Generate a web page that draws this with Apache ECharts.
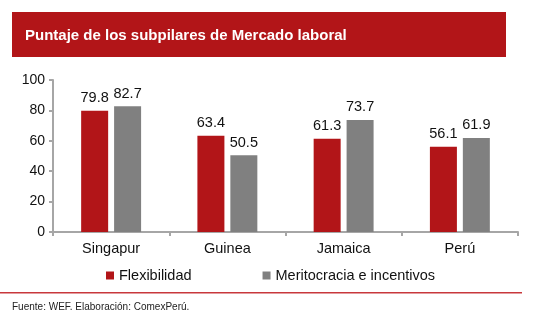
<!DOCTYPE html>
<html><head><meta charset="utf-8">
<script src="https://cdn.jsdelivr.net/npm/echarts@6/dist/echarts.min.js"></script>
<style>html,body{margin:0;padding:0;background:#fff}#c{width:537px;height:326px}</style>
</head><body><div id="c"></div>
<script>
var categories = ['Singapur', 'Guinea', 'Jamaica', 'Perú'];
var flexibilidad = [79.8, 63.4, 61.3, 56.1];
var meritocracia = [82.7, 50.5, 73.7, 61.9];
var yTicks = [0, 20, 40, 60, 80, 100];

var chart = echarts.init(document.getElementById('c'), null, {renderer: 'canvas'});
var font = 'Liberation Sans, Arial, sans-serif';
chart.setOption({
  animation: false,
  backgroundColor: '#fff',
  title: {
    text: 'Puntaje de los subpilares de Mercado laboral',
    left: 25, top: 28, padding: 0,
    textStyle: {color: '#fff', fontSize: 15, fontWeight: 'bold', fontFamily: font}
  },
  graphic: [
    {type: 'rect', z: -1, shape: {x: 12, y: 12, width: 494, height: 45}, style: {fill: '#B21518'}},
    {type: 'rect', shape: {x: 0, y: 292, width: 522, height: 1.5}, style: {fill: '#C8383C'}},
    {type: 'text', left: 12, top: 302, style: {text: 'Fuente: WEF. Elaboración: ComexPerú.', fill: '#222', font: '10px ' + font}}
  ],
  legend: {
    top: 263, left: 101,
    itemWidth: 8, itemHeight: 8, itemGap: 71,
    icon: 'rect',
    textStyle: {fontSize: 14.5, color: '#111', fontFamily: font},
    data: ['Flexibilidad', 'Meritocracia e incentivos']
  },
  grid: {left: 53, right: 19, top: 80, bottom: 94},
  xAxis: {
    type: 'category', data: categories,
    axisLine: {lineStyle: {color: '#A6A6A6', width: 2}},
    axisTick: {show: true, length: 4, lineStyle: {color: '#A6A6A6', width: 2}},
    axisLabel: {fontSize: 14.5, color: '#111', fontFamily: font, margin: 9}
  },
  yAxis: {
    type: 'value', min: 0, max: 100, interval: 20,
    axisLine: {show: true, lineStyle: {color: '#A6A6A6', width: 2}},
    axisTick: {show: true, length: 4, lineStyle: {color: '#A6A6A6', width: 2}},
    splitLine: {show: false},
    axisLabel: {fontSize: 14, color: '#111', fontFamily: font, margin: 8}
  },
  series: [
    {name: 'Flexibilidad', type: 'bar', data: flexibilidad, barWidth: 27, barGap: '22%',
     itemStyle: {color: '#B21518'},
     label: {show: true, position: 'top', fontSize: 14.5, color: '#111', fontFamily: font, distance: 5, formatter: function(p){return p.value.toFixed(1);}}},
    {name: 'Meritocracia e incentivos', type: 'bar', data: meritocracia, barWidth: 27,
     itemStyle: {color: '#808080'},
     label: {show: true, position: 'top', fontSize: 14.5, color: '#111', fontFamily: font, distance: 5, formatter: function(p){return p.value.toFixed(1);}}}
  ]
});
</script></body></html>
